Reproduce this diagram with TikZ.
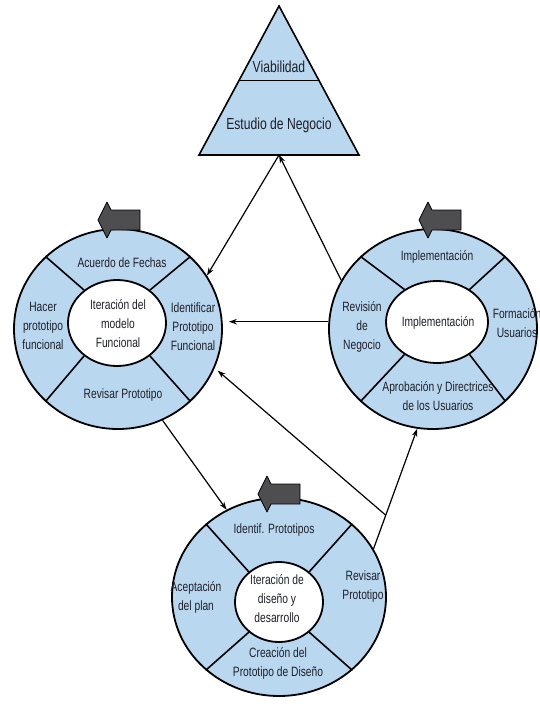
\documentclass[tikz,border=0pt]{standalone}
\usepackage{fontspec}
\setmainfont{Liberation Sans}[FakeStretch=0.76]
\usetikzlibrary{shapes.geometric,arrows.meta,calc}

\definecolor{ringblue}{RGB}{186,215,240}
\definecolor{arrowgray}{RGB}{78,78,80}
\definecolor{txt}{RGB}{30,32,40}

\tikzset{
  ring/.style={ellipse, draw, line width=1.8pt, fill=ringblue, inner sep=0pt},
  hub/.style={ellipse, draw, line width=1.8pt, fill=white, inner sep=0pt},
  divider/.style={line width=1.6pt},
  frame/.style={draw, line width=1.6pt, line join=miter},
  lbl/.style={align=center, font=\fontsize{13.5}{19}\selectfont, text=txt, inner sep=0pt},
  toplbl/.style={align=center, font=\fontsize{16}{20}\selectfont, text=txt, inner sep=0pt},
  link/.style={line width=1.2pt, -{Stealth[length=8pt,width=5.5pt]}},
  flowarrow/.pic={
    \draw[fill=arrowgray, draw=black, line width=0.8pt, line join=round]
      (0,0) -- (9,-18) -- (13,-10) -- (42,-10) -- (42,10) -- (13,10) -- (9,18) -- cycle;
  }
}

\begin{document}
\begin{tikzpicture}[x=1pt, y=-1pt]
\useasboundingbox[fill=white] (0,0) rectangle (540,704);

% ---- Viabilidad / Estudio de Negocio triangle ----
\coordinate (apex) at (279,6);
\coordinate (bl) at (199,155);
\coordinate (br) at (359,155);
\coordinate (T) at (279,155);
\filldraw[frame, fill=ringblue] (apex) -- (br) -- (bl) -- cycle;
\draw[frame] ($(apex)!0.5!(bl)$) -- ($(apex)!0.5!(br)$);
\node[toplbl] (viab) at (279,67) {Viabilidad};
\node[toplbl] (estudio) at (279,125) {Estudio de Negocio};

% ---- functional model iteration (left ring) ----
\node[ring, minimum width=208, minimum height=200] (L) at (118,329) {};
\node[hub, minimum width=98, minimum height=86] (Lh) at (117,323) {};
\foreach \a in {45,135,225,315} \draw[divider] (Lh.\a) -- (L.\a);
\node[lbl] (Ltop) at (122,263) {Acuerdo de Fechas};
\node[lbl] (Lleft) at (43,326) {Hacer\\prototipo\\funcional};
\node[lbl] (Lright) at (193,327) {Identificar\\Prototipo\\Funcional};
\node[lbl] (Lbottom) at (123,395) {Revisar Prototipo};
\node[lbl] (Lcenter) at (118,324) {Iteración del\\modelo\\Funcional};

% ---- implementation (right ring) ----
\node[ring, minimum width=208, minimum height=200] (R) at (433,329) {};
\node[hub, minimum width=102, minimum height=82] (Rh) at (437,322) {};
\foreach \a in {45,135,225,315} \draw[divider] (Rh.\a) -- (R.\a);
\node[lbl] (Rtop) at (437,257) {Implementación};
\node[lbl] (Rleft) at (362,327) {Revisión\\de\\Negocio};
\node[lbl] (Rright) at (517,323) {Formación\\Usuarios};
\node[lbl] (Rbottom) at (438,396) {Aprobación y Directrices\\de los Usuarios};
\node[lbl] (Rcenter) at (438,323) {Implementación};

% ---- design and build iteration (bottom ring) ----
\node[ring, minimum width=214, minimum height=198] (B) at (279,597) {};
\node[hub, minimum width=88, minimum height=80] (Bh) at (279,602) {};
\foreach \a in {45,135,225,315} \draw[divider] (Bh.\a) -- (B.\a);
\node[lbl] (Btop) at (274,530) {Identif. Prototipos};
\node[lbl] (Bleft) at (196,597) {Aceptación\\del plan};
\node[lbl] (Bright) at (363,587) {Revisar\\Prototipo};
\node[lbl] (Bbottom) at (278,663) {Creación del\\Prototipo de Diseño};
\node[lbl] (Bcenter) at (277,599) {Iteración de\\diseño y\\desarrollo};

% ---- direction-of-cycle arrows on each ring ----
\pic at (98,220) {flowarrow};
\pic at (419,220) {flowarrow};
\pic at (258,494) {flowarrow};

% ---- connectors ----
\draw[link] (T) -- (L.31);
\draw[link] (R.152) -- (T);
\draw[link, shorten >=6pt] (R.176) -- (R.176 -| L.east);
\draw[link] (B.27) -- (R.261);
\coordinate (J) at ($(B.27)!0.28!(R.261)$);
\draw[link, shorten >=4pt] (J) -- (L.-22);
\draw[link] (L.-64) -- (B.121);

\end{tikzpicture}
\end{document}
